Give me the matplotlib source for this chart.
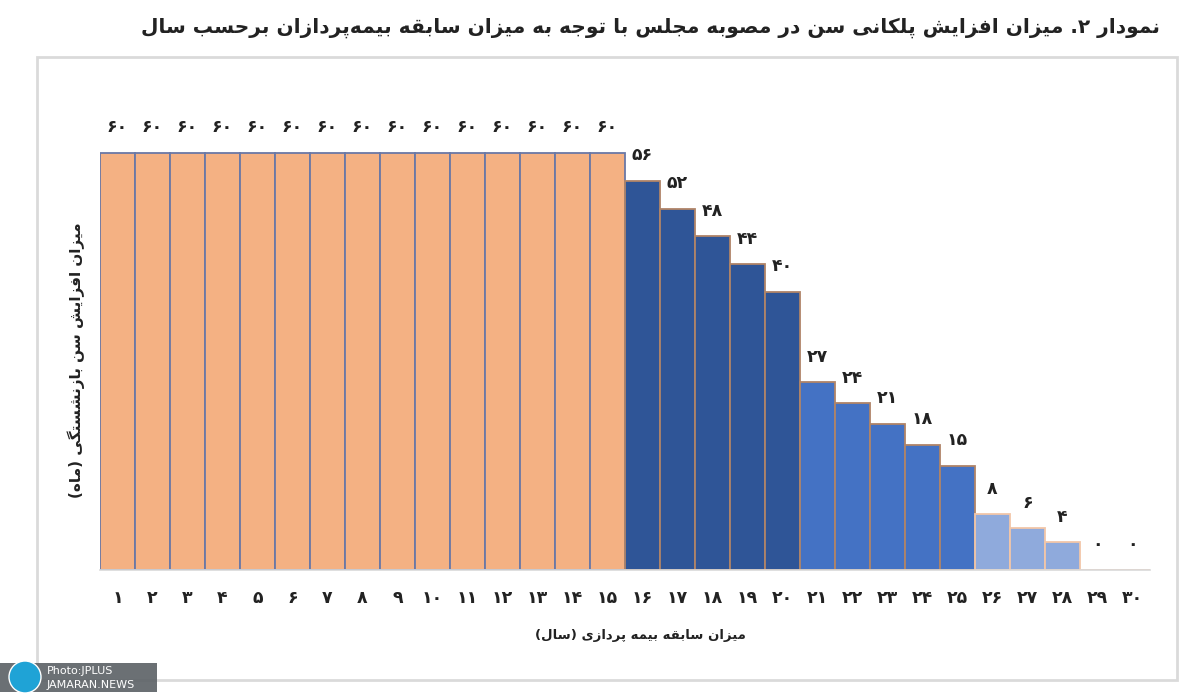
import numpy as np
import matplotlib.pyplot as plt
from matplotlib.patches import Rectangle, Ellipse

# --- data ---
years = list(range(1, 31))
months = [60] * 15 + [56, 52, 48, 44, 40, 27, 24, 21, 18, 15, 8, 6, 4, 0, 0]
groups = [0] * 15 + [1] * 5 + [2] * 5 + [3] * 5

title = "نمودار ۲. میزان افزایش پلکانی سن در مصوبه مجلس با توجه به میزان سابقه بیمه\u200cپردازان برحسب سال"
ylabel = "میزان افزایش سن بازنشستگی (ماه)"
xlabel = "میزان سابقه بیمه پردازی (سال)"

fill_colors = ['#F4B183', '#2F5597', '#4472C4', '#8FAADC']
edge_colors = ['#6A78A6', '#B08468', '#B08468', '#F2C6A8']

# --- simple arabic/persian shaping (matplotlib does not shape text) ---
FORMS = {
    'ا': ('\uFE8D', '\uFE8E'), 'د': ('\uFEA9', '\uFEAA'), 'ر': ('\uFEAD', '\uFEAE'),
    'ز': ('\uFEAF', '\uFEB0'), 'و': ('\uFEED', '\uFEEE'),
    'ب': ('\uFE8F', '\uFE90', '\uFE91', '\uFE92'), 'پ': ('\uFB56', '\uFB57', '\uFB58', '\uFB59'),
    'ت': ('\uFE95', '\uFE96', '\uFE97', '\uFE98'), 'ج': ('\uFE9D', '\uFE9E', '\uFE9F', '\uFEA0'),
    'ح': ('\uFEA1', '\uFEA2', '\uFEA3', '\uFEA4'), 'س': ('\uFEB1', '\uFEB2', '\uFEB3', '\uFEB4'),
    'ش': ('\uFEB5', '\uFEB6', '\uFEB7', '\uFEB8'), 'ص': ('\uFEB9', '\uFEBA', '\uFEBB', '\uFEBC'),
    'ف': ('\uFED1', '\uFED2', '\uFED3', '\uFED4'), 'ق': ('\uFED5', '\uFED6', '\uFED7', '\uFED8'),
    'ک': ('\uFB8E', '\uFB8F', '\uFB90', '\uFB91'), 'گ': ('\uFB92', '\uFB93', '\uFB94', '\uFB95'),
    'ل': ('\uFEDD', '\uFEDE', '\uFEDF', '\uFEE0'), 'م': ('\uFEE1', '\uFEE2', '\uFEE3', '\uFEE4'),
    'ن': ('\uFEE5', '\uFEE6', '\uFEE7', '\uFEE8'), 'ه': ('\uFEE9', '\uFEEA', '\uFEEB', '\uFEEC'),
    'ی': ('\uFBFC', '\uFBFD', '\uFBFE', '\uFBFF'),
}


def rtl(text):
    out = []
    for i, c in enumerate(text):
        if c not in FORMS:
            if c != '\u200c':
                out.append(c)
            continue
        prev = text[i - 1] if i > 0 else ''
        nxt = text[i + 1] if i + 1 < len(text) else ''
        j_prev = prev in FORMS and len(FORMS[prev]) == 4
        j_next = len(FORMS[c]) == 4 and nxt in FORMS
        f = FORMS[c]
        if j_prev and j_next:
            out.append(f[3])
        elif j_prev:
            out.append(f[1])
        elif j_next:
            out.append(f[2])
        else:
            out.append(f[0])
    s = ''.join(reversed(out))
    s = s.translate(str.maketrans('()', ')('))
    # keep digit runs left-to-right
    res, run = [], ''
    for c in s:
        if c.isdigit():
            run += c
        else:
            res.append(run[::-1]); run = ''
            res.append(c)
    res.append(run[::-1])
    return ''.join(res)


def fa_num(n):
    return str(n).translate(str.maketrans('0123456789', '۰۱۲۳۴۵۶۷۸۹'))


plt.rcParams['font.family'] = ['DejaVu Sans']

fig = plt.figure(figsize=(12, 6.99), dpi=100)
W, H = 1200, 699
ax = fig.add_axes([100 / W, 129 / H, 1050 / W, 486.5 / H])

for x, v, g in zip(years, months, groups):
    ax.bar(x, v, width=1.0, color=fill_colors[g], edgecolor=edge_colors[g], linewidth=1.3)
    ax.annotate(fa_num(v), (x, v), xytext=(0, 18.5), textcoords='offset points',
                ha='center', va='center', fontsize=12.5, fontweight='bold', color='#222222')

ax.set_xlim(0.5, 30.5)
ax.set_ylim(0, 70)
ax.set_xticks(years)
ax.set_xticklabels([fa_num(y) for y in years], fontsize=12.5, fontweight='bold', color='#222222')
ax.tick_params(axis='x', length=0, pad=14)
ax.set_yticks([])
for s in ['top', 'right', 'left']:
    ax.spines[s].set_visible(False)
ax.spines['bottom'].set_color('#D9D9D9')
ax.spines['bottom'].set_linewidth(1.2)

fig.text(640 / W, 1 - 635 / H, rtl(xlabel), ha='center', va='center',
         fontsize=9.5, fontweight='bold', color='#222222')
fig.text(76 / W, 1 - 360 / H, rtl(ylabel), ha='center', va='center', rotation=90,
         fontsize=11, fontweight='bold', color='#222222')
fig.text(1160 / W, 1 - 28 / H, rtl(title), ha='right', va='center',
         fontsize=14.5, fontweight='bold', color='#222222')

# chart frame
fig.patches.append(Rectangle((37 / W, 1 - 680 / H), 1140 / W, 623 / H, transform=fig.transFigure,
                             fill=False, edgecolor='#DADADA', linewidth=2))

# photo credit box
fig.patches.append(Rectangle((0, 1 - 692 / H), 157 / W, 29 / H, transform=fig.transFigure,
                             facecolor='#5E6468', edgecolor='none', alpha=0.92))
fig.patches.append(Ellipse((25 / W, 1 - 677 / H), 32 / W, 32 / H, transform=fig.transFigure,
                           facecolor='#1FA3D6', edgecolor='white', linewidth=1))
fig.text(47 / W, 1 - 671 / H, 'Photo:JPLUS', color='white', fontsize=8, va='center')
fig.text(47 / W, 1 - 685 / H, 'JAMARAN.NEWS', color='white', fontsize=8, va='center')

fig.savefig('out.png', dpi=100)
